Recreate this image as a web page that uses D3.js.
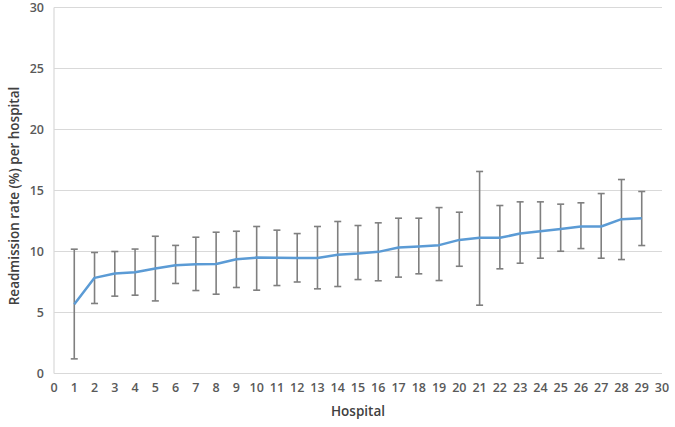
<!DOCTYPE html>
<html><head><meta charset="utf-8">
<script src="https://cdn.jsdelivr.net/npm/d3@7"></script>
<style>body{margin:0;background:#fff}svg{display:block}</style>
</head><body><svg id="c" width="675" height="427"></svg>
<script>
const hospitals = d3.range(1, 30);
const rate  = [5.68,7.84,8.2,8.3,8.6,8.88,8.96,8.98,9.37,9.5,9.48,9.47,9.47,9.73,9.83,9.97,10.33,10.41,10.52,10.95,11.12,11.12,11.47,11.66,11.85,12.05,12.05,12.65,12.73];
const upper = [10.19,9.92,10.0,10.2,11.25,10.5,11.17,11.58,11.66,12.05,11.75,11.47,12.05,12.46,12.13,12.35,12.73,12.73,13.6,13.22,16.56,13.77,14.07,14.07,13.88,13.99,14.75,15.9,14.92];
const lower = [1.2,5.74,6.34,6.42,5.95,7.38,6.8,6.5,7.05,6.83,7.21,7.5,6.94,7.13,7.7,7.6,7.9,8.17,7.62,8.79,5.6,8.58,9.04,9.45,10.02,10.24,9.45,9.34,10.49];
const xTicks = d3.range(0, 31);
const yTicks = [0,5,10,15,20,25,30];

const svg = d3.select("#c");
const font = "'Open Sans', 'Noto Sans', sans-serif";
const x = d3.scaleLinear().domain([0,30]).range([54,662]);
const y = d3.scaleLinear().domain([0,30]).range([373.5,7.5]);

svg.append("g").selectAll("line").data(yTicks).join("line")
  .attr("x1", x(0)).attr("x2", x(30))
  .attr("y1", d=>y(d)).attr("y2", d=>y(d))
  .attr("stroke", "#d9d9d9").attr("stroke-width", 1.2);
svg.append("line").attr("x1", x(0)).attr("x2", x(0)).attr("y1", y(0)).attr("y2", y(30))
  .attr("stroke", "#d9d9d9").attr("stroke-width", 1.2);

svg.append("g").selectAll("text").data(yTicks).join("text")
  .attr("x", 44).attr("y", d=>y(d)+4.5)
  .attr("text-anchor","end").attr("font-family",font).attr("font-size",12.5).attr("font-weight",600)
  .attr("fill","#595959").text(d=>d);
svg.append("g").selectAll("text").data(xTicks).join("text")
  .attr("x", d=>x(d)).attr("y", 391.5)
  .attr("text-anchor","middle").attr("font-family",font).attr("font-size",12.5).attr("font-weight",600)
  .attr("fill","#595959").text(d=>d);

svg.append("text").attr("x", x(15)).attr("y", 416).attr("text-anchor","middle")
  .attr("font-family",font).attr("font-size",13.5).attr("font-weight",600).attr("fill","#404040").text("Hospital");
svg.append("text").attr("transform", `translate(19,196) rotate(-90)`)
  .attr("text-anchor","middle").attr("font-family",font).attr("font-size",13.5).attr("font-weight",600)
  .attr("fill","#404040").text("Readmission rate (%) per hospital");

const eb = svg.append("g").attr("stroke","#7f7f7f").attr("stroke-width",1.6);
hospitals.forEach((h,i)=>{
  eb.append("line").attr("x1",x(h)).attr("x2",x(h)).attr("y1",y(upper[i])).attr("y2",y(lower[i]));
  eb.append("line").attr("x1",x(h)-3.5).attr("x2",x(h)+3.5).attr("y1",y(upper[i])).attr("y2",y(upper[i]));
  eb.append("line").attr("x1",x(h)-3.5).attr("x2",x(h)+3.5).attr("y1",y(lower[i])).attr("y2",y(lower[i]));
});

svg.append("path").datum(hospitals.map((h,i)=>[h,rate[i]]))
  .attr("fill","none").attr("stroke","#5b9bd5").attr("stroke-width",2.5)
  .attr("stroke-linejoin","round")
  .attr("d", d3.line().x(d=>x(d[0])).y(d=>y(d[1])));
</script></body></html>
